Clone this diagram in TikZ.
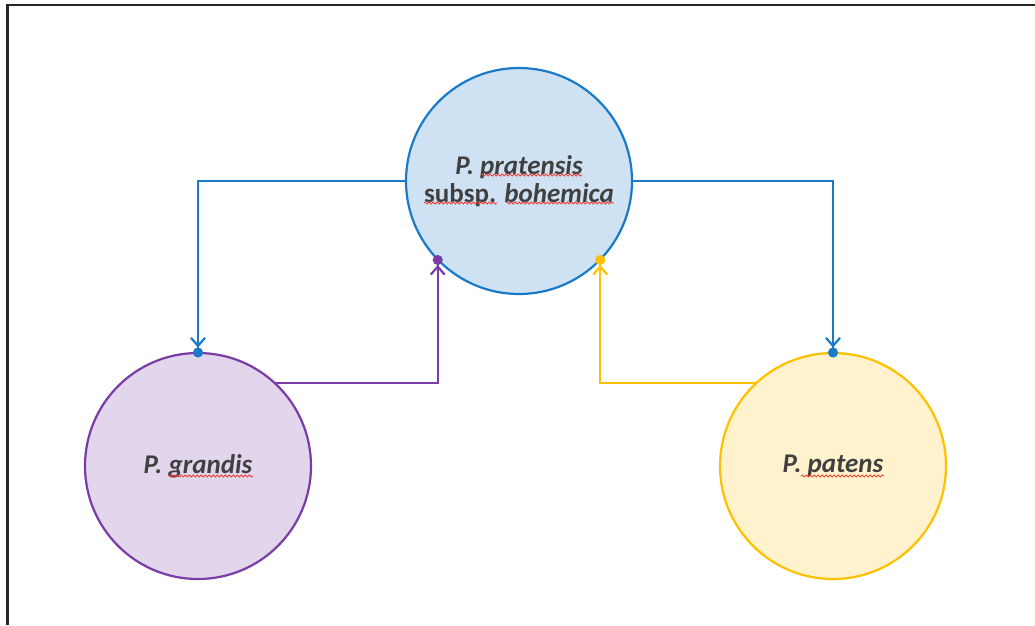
\documentclass[tikz,border=0pt]{standalone}
\usepackage{fontspec}
\setmainfont{Carlito}
\usepackage{xcolor}
\usetikzlibrary{arrows.meta,decorations.pathmorphing}

\definecolor{blueline}{HTML}{1A7AC8}
\definecolor{bluefill}{HTML}{CFE2F3}
\definecolor{purpleline}{HTML}{7A3CA6}
\definecolor{purplefill}{HTML}{E2D6EC}
\definecolor{yellowline}{HTML}{FFC000}
\definecolor{yellowfill}{HTML}{FFF2CC}
\definecolor{txtgray}{HTML}{404040}
\definecolor{spellred}{HTML}{E8413C}

\begin{document}
\begin{tikzpicture}[
    x=1pt, y=-1pt,
    species/.style={circle, draw, line width=2.2pt, minimum size=226pt, inner sep=0pt,
        outer sep=0pt, align=center, text=txtgray,
        font=\fontsize{27}{28}\selectfont\bfseries\itshape},
    link/.style={line width=2.2pt, shorten >=-4.5pt,
        -{Straight Barb[length=8pt,width=14pt] Circle[length=10pt]}},
    spellmark/.style={spellred, line width=0.8pt, decorate,
        decoration={snake, amplitude=1.1pt, segment length=4pt}}
]
\useasboundingbox (0,0) rectangle (1035,625);
\draw[line width=2.4pt, black!85] (7.5,625) -- (7.5,5) -- (1035,5);

\node[species, draw=blueline, fill=bluefill] (pratensis) at (519,181)
    {P. pratensis\\{\upshape subsp.} bohemica};
\node[species, draw=purpleline, fill=purplefill] (grandis) at (198,466) {P. grandis};
\node[species, draw=yellowline, fill=yellowfill] (patens) at (833,466) {P. patens};

\draw[link, blueline] (pratensis.west) -| (grandis.north);
\draw[link, blueline] (pratensis.east) -| (patens.north);
\draw[link, purpleline] (grandis.47) -| (pratensis.224);
\draw[link, yellowline] (patens.133) -| (pratensis.316);

% spell-check marks
\draw[spellmark] (481,175) -- (582,175);
\draw[spellmark] (424,203) -- (497,203);
\draw[spellmark] (506,203) -- (614,203);
\draw[spellmark] (168,476) -- (253,476);
\draw[spellmark] (801,476) -- (884,476);

\end{tikzpicture}
\end{document}
